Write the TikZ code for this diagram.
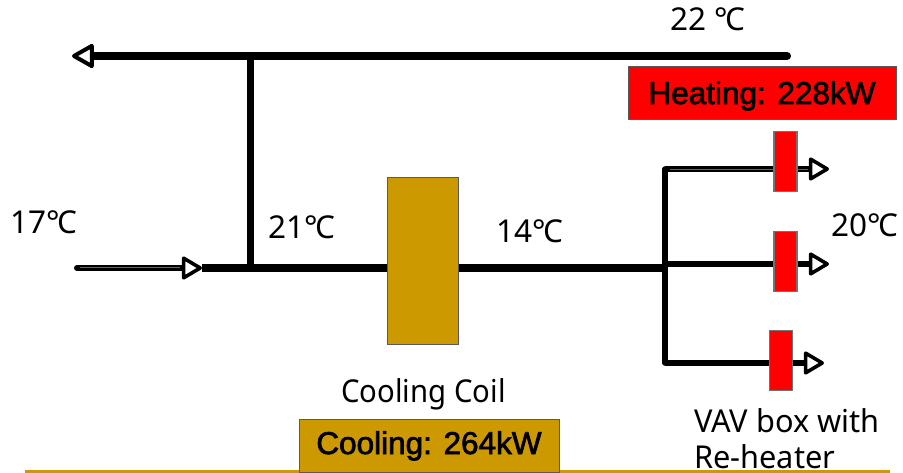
\documentclass[tikz,border=0pt]{standalone}
\usepackage{fontspec}
\setmainfont{Noto Sans}
\newfontfamily\coilfont{Noto Sans}[FakeStretch=0.93]
\newfontfamily\vavfont{Noto Sans}[FakeStretch=0.975]
\newfontfamily\arialfont{Liberation Sans}
\usetikzlibrary{arrows.meta}
\definecolor{gold}{HTML}{CC9900}
\newcommand{\heavy}[1]{\special{pdf:code 2 Tr 0.7 w}#1\special{pdf:code 0 Tr 1 w}}
\tikzset{
  x=1pt,y=-1pt,
  lab/.style={inner sep=0pt,anchor=base,font=\fontsize{31.5}{36}\selectfont,text=black},
  boxlab/.style={draw=black!65,line width=1pt,inner sep=0pt,font=\arialfont\fontsize{31.5}{36}\selectfont,text=black},
  vav/.style={draw=black!55,line width=1.2pt,fill=red,inner sep=0pt,minimum width=23pt,minimum height=60pt},
  duct/.style={line width=8pt,draw=black},
  maind/.style={line width=7.5pt,draw=black},
  thinduct/.style={line width=6pt,draw=black},
  flow/.style={-{Triangle[open,fill=white,length=22pt,width=25pt,line width=3.6pt,round]}},
}
\newcommand{\degC}{°\kern-0.08em C}
\begin{document}
\begin{tikzpicture}
\useasboundingbox (0,0) rectangle (903,473);
\fill[white] (0,0) rectangle (903,473);
% footer rule
\coordinate (ruleL) at (25,471);
\coordinate (ruleR) at (890,471);
\draw[gold,line width=3pt] (ruleL) -- (ruleR);
% coordinates
\coordinate (topR) at (787,56);
\coordinate (topL) at (72,56);
\coordinate (tee) at (250,56);
\coordinate (teeB) at (250,268);
\coordinate (inL) at (77,268);
\coordinate (inA) at (202,268);
\coordinate (hub) at (665,268);
\coordinate (hubT) at (665,169);
\coordinate (hubB) at (665,363);
\coordinate (o1) at (829,169);
\coordinate (o2) at (829,264);
\coordinate (o3) at (824,363);
\coordinate (h2) at (665,264);
% ducts
\draw[duct,line cap=round] (topR) -- (tee);
\draw[duct,-{Triangle[open,fill=white,length=24pt,width=26pt,line width=4pt,round]}] (tee) -- (topL);
\draw[line width=7pt] (tee) -- (teeB);
\draw[maind] (inA) -- (hub);
\draw[thinduct,line cap=round,flow] (inL) -- (inA);
\draw[draw=black!60,line width=1pt] (80,268) -- (180,268);
\draw[line width=5.5pt,line cap=round,line join=round] (hubT) -- (hubB);
\draw[line width=5.5pt,flow] (hubT) -- (o1);
\draw[line width=6pt,flow] (h2) -- (o2);
\draw[line width=5.5pt,flow] (hubB) -- (o3);
\draw[draw=black!60,line width=0.8pt] (670,169) -- (808,169);
% equipment
\node[draw=black!65,line width=1pt,fill=gold,minimum width=71pt,minimum height=166pt,inner sep=0pt] (coil) at (422.5,261) {};
\node[vav] (v1) at (785.5,161.5) {};
\node[vav] (v2) at (785.5,261.5) {};
\node[vav] (v3) at (781,360.5) {};
\node[boxlab,fill=red,minimum width=268pt,minimum height=53pt] (heat) at (762,93.5) {\raisebox{-10.5pt}[8pt][8pt]{\heavy{Heating: 228kW}}};
\node[boxlab,fill=gold,minimum width=260pt,minimum height=53pt] (cool) at (429,445.5) {\raisebox{-8.5pt}[8pt][8pt]{\heavy{Cooling: 264kW}}};
% labels
\node[lab] (t22) at (708,31) {22 \degC};
\node[lab] (t17) at (43.5,234) {17\degC};
\node[lab] (t21) at (302,239) {21\degC};
\node[lab] (t14) at (530,243) {14\degC};
\node[lab] (t20) at (864.5,237) {20\degC};
\node[lab,font=\coilfont\fontsize{31.5}{36}\selectfont] (tcc) at (423.5,402) {Cooling Coil};
\node[lab,anchor=base west,font=\vavfont\fontsize{31.5}{36}\selectfont] (tv1) at (694,432) {VAV box with};
\node[lab,anchor=base west,font=\vavfont\fontsize{31.5}{36}\selectfont] (tv2) at (694,468) {Re-heater};
\end{tikzpicture}
\end{document}
